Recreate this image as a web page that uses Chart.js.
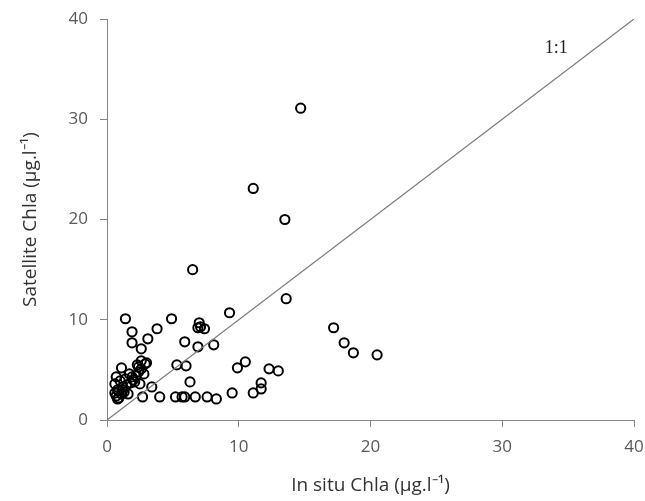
<!DOCTYPE html>
<html>
<head>
<meta charset="utf-8">
<script src="https://cdn.jsdelivr.net/npm/chart.js@4.4.0/dist/chart.umd.min.js"></script>
<style>
  html, body { margin: 0; padding: 0; background: #fff; }
  #wrap { width: 645px; height: 501px; }
</style>
</head>
<body>
<div id="wrap"><canvas id="grafico"></canvas></div>
<script>
// In situ vs satellite Chla (µg/l)
const inSitu = [
  14.7, 11.1, 13.5, 6.5, 13.6, 9.3, 4.9, 1.4, 17.2, 3.8,
  7.0, 7.1, 7.4, 6.9, 1.9, 3.1, 18.0, 5.9, 8.1, 1.9,
  6.9, 2.6, 18.7, 20.5, 10.5, 9.9, 5.3, 6.0, 12.3, 13.0,
  6.3, 11.7, 11.7, 11.1, 9.5, 3.4, 2.7, 4.0, 5.2, 5.7,
  5.9, 6.7, 7.6, 8.3,
  0.7, 0.9, 1.1, 0.8, 1.2, 0.6, 1.0, 0.7, 1.4, 1.5,
  1.3, 1.8, 2.0, 2.2, 2.4, 2.6, 2.3, 2.9, 2.8, 2.1,
  2.5, 1.1, 1.6, 0.9, 1.7, 2.6, 3.0, 0.8, 1.2, 1.9,
  2.4, 0.6
];
const satelite = [
  31.1, 23.1, 20.0, 15.0, 12.1, 10.7, 10.1, 10.1, 9.2, 9.1,
  9.7, 9.3, 9.1, 9.2, 8.8, 8.1, 7.7, 7.8, 7.5, 7.7,
  7.3, 7.1, 6.7, 6.5, 5.8, 5.2, 5.5, 5.4, 5.1, 4.9,
  3.8, 3.7, 3.1, 2.7, 2.7, 3.3, 2.3, 2.3, 2.3, 2.3,
  2.3, 2.3, 2.3, 2.1,
  2.4, 2.2, 2.6, 3.0, 3.3, 3.6, 3.9, 4.3, 4.1, 3.5,
  2.8, 3.7, 4.0, 4.4, 4.8, 5.1, 5.5, 5.6, 4.6, 3.8,
  3.6, 5.2, 2.6, 2.9, 4.6, 5.9, 5.7, 2.1, 3.0, 4.3,
  5.3, 2.7
];
const lineaX = [0, 40];
const lineaY = [0, 40];
const ticksEje = [0, 10, 20, 30, 40];
const etiquetaLinea = "1:1";
const etiquetaPos = [34.1, 37.1];

const puntos = inSitu.map((x, i) => ({ x: x, y: satelite[i] }));
const linea = lineaX.map((x, i) => ({ x: x, y: lineaY[i] }));

const textoLinea = {
  id: "textoLinea",
  afterDatasetsDraw(chart) {
    const { ctx, scales } = chart;
    ctx.save();
    ctx.font = "18px 'Liberation Serif'";
    ctx.fillStyle = "#222";
    ctx.textAlign = "center";
    ctx.textBaseline = "middle";
    ctx.fillText(etiquetaLinea, scales.x.getPixelForValue(etiquetaPos[0]), scales.y.getPixelForValue(etiquetaPos[1]));
    ctx.restore();
  }
};

const fuente = { family: "'Open Sans', sans-serif", size: 17 };
const fuenteTitulo = { family: "'Open Sans', sans-serif", size: 19 };

new Chart(document.getElementById("grafico"), {
  type: "scatter",
  data: {
    datasets: [
      {
        label: "1:1",
        data: linea,
        type: "line",
        borderColor: "#7a7a7a",
        borderWidth: 1.2,
        pointRadius: 0,
        fill: false,
      },
      {
        label: "Chla",
        data: puntos,
        pointStyle: "circle",
        pointRadius: 4.6,
        borderWidth: 2,
        borderColor: "#000",
        backgroundColor: "rgba(0,0,0,0)",
      },
    ],
  },
  options: {
    responsive: true,
    maintainAspectRatio: false,
    animation: false,
    layout: { padding: { left: 15, right: 11, top: 19, bottom: 0 } },
    plugins: { legend: { display: false }, tooltip: { enabled: false } },
    scales: {
      x: {
        min: 0,
        max: 40,
        afterBuildTicks: (s) => { s.ticks = ticksEje.map((v) => ({ value: v })); },
        afterFit: (s) => { s.height = 81; s.paddingLeft = 0; s.paddingRight = 0; },
        grid: { drawOnChartArea: false, drawTicks: true, tickLength: 7, color: "#868686" },
        border: { color: "#868686" },
        ticks: { color: "#595959", font: fuente, padding: 10, maxRotation: 0 },
        title: { display: true, text: "In situ Chla (µg.l⁻¹)", color: "#333", font: fuenteTitulo, padding: { top: 8 } },
      },
      y: {
        min: 0,
        max: 40,
        afterBuildTicks: (s) => { s.ticks = ticksEje.map((v) => ({ value: v })); },
        afterFit: (s) => { s.width = 92; s.paddingTop = 0; s.paddingBottom = 0; },
        grid: { drawOnChartArea: false, drawTicks: true, tickLength: 7, color: "#868686" },
        border: { color: "#868686" },
        ticks: { color: "#595959", font: fuente, padding: 12 },
        title: { display: true, text: "Satellite Chla (µg.l⁻¹)", color: "#333", font: fuenteTitulo, padding: { bottom: 6 } },
      },
    },
  },
  plugins: [textoLinea],
});
</script>
</body>
</html>
